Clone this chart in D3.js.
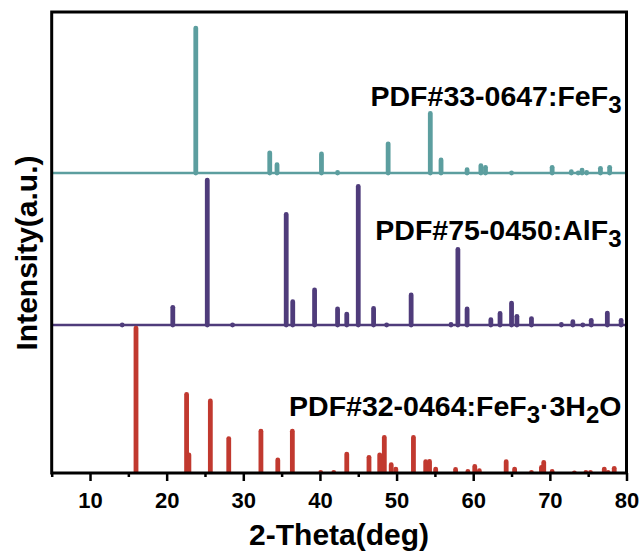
<!DOCTYPE html>
<html>
<head>
<meta charset="utf-8">
<script src="https://cdn.jsdelivr.net/npm/d3@7"></script>
<style>
  html, body { margin: 0; padding: 0; background: #fff; }
  svg { display: block; }
  text { font-family: "Liberation Sans", Arial, sans-serif; font-weight: bold; fill: #000; }
</style>
</head>
<body>
<svg id="chart" width="641" height="554"></svg>
<script>
// ---- Data (2θ positions in degrees, relative intensities 0-100) ----
const fef3Pos = [23.8, 33.45, 34.4, 40.2, 42.3, 48.9, 54.4, 55.8, 59.2, 61.0, 61.6, 65.0, 70.3, 72.8, 73.7, 74.2, 74.8, 76.6, 77.8];
const fef3Int = [100, 15.3, 7.3, 14.6, 2, 21.4, 42, 10.5, 3.9, 6.6, 5.5, 1.6, 5.5, 2.5, 1.6, 3.6, 2, 4.8, 5.5];

const alf3Pos = [14.2, 20.8, 25.3, 28.6, 35.6, 36.45, 39.3, 42.3, 43.5, 45.0, 47.0, 48.7, 51.9, 57.1, 58.0, 59.2, 62.3, 63.5, 65.0, 65.7, 67.6, 71.5, 73.0, 74.3, 75.4, 77.5, 79.3];
const alf3Int = [1, 13.6, 100, 1, 76.7, 17.4, 25.4, 12.5, 9, 95.7, 12.9, 1.6, 22, 2, 52.9, 12.5, 5.2, 9.5, 16.5, 7.5, 6, 2, 3.9, 1.5, 4.8, 9.7, 4.8];

const hydPos = [16.0, 22.6, 22.9, 25.7, 28.1, 32.3, 34.5, 36.4, 40.1, 41.8, 43.5, 46.4, 47.8, 48.4, 49.3, 49.9, 52.2, 53.8, 54.3, 55.1, 57.7, 59.3, 60.2, 60.8, 64.3, 65.4, 67.6, 68.9, 69.2, 70.3, 73.2, 74.7, 75.3, 77.1, 77.6, 78.4];
const hydInt = [100, 55, 14, 50.5, 25, 30, 10.5, 30, 2, 2, 14.5, 12.3, 14, 25.8, 7.3, 4.3, 25.8, 9.3, 9.5, 4.3, 4, 2.7, 6.1, 3.2, 9.3, 4.3, 2, 5.4, 8.8, 2.7, 1.6, 2, 2, 4.3, 2, 4.8];

const majorTicks = [10, 20, 30, 40, 50, 60, 70, 80];
const minorTicks = [5, 15, 25, 35, 45, 55, 65, 75];

const seriesColors = ["#5c9e9f", "#4f3c7b", "#c1392f"];

// ---- Layout ----
const svg = d3.select("#chart");
const pLeft = 51.7, pRight = 626.5, pTop = 12, pBottom = 473;

const x = d3.scaleLinear().domain([5, 80]).range([pLeft, pRight]);
const y = d3.scaleLinear().domain([0, 313]).range([pBottom, pTop]);

const offsets = [203.7, 100.5, 0];
const panels = [
  { pos: fef3Pos, val: fef3Int, color: seriesColors[0], off: offsets[0], base: true },
  { pos: alf3Pos, val: alf3Int, color: seriesColors[1], off: offsets[1], base: true },
  { pos: hydPos, val: hydInt, color: seriesColors[2], off: offsets[2], base: false }
];

svg.append("defs").append("clipPath").attr("id", "plotclip")
  .append("rect").attr("x", pLeft).attr("y", pTop)
  .attr("width", pRight - pLeft).attr("height", pBottom - pTop);

const g = svg.append("g").attr("clip-path", "url(#plotclip)");
const barW = 4.8;

panels.forEach(p => {
  if (p.base) {
    g.append("line")
      .attr("x1", pLeft).attr("x2", pRight)
      .attr("y1", y(p.off)).attr("y2", y(p.off))
      .attr("stroke", p.color).attr("stroke-width", 2.5);
  }
  g.selectAll(null)
    .data(p.pos.map((d, i) => ({ t: d, v: p.val[i] })))
    .enter().append("line")
    .attr("x1", d => x(d.t)).attr("x2", d => x(d.t))
    .attr("y1", y(p.off))
    .attr("y2", d => Math.min(y(p.off + d.v) + barW / 2, y(p.off)))
    .attr("stroke", p.color)
    .attr("stroke-width", barW)
    .attr("stroke-linecap", "round");
});

// Frame
svg.append("rect")
  .attr("x", pLeft).attr("y", pTop)
  .attr("width", pRight - pLeft).attr("height", pBottom - pTop)
  .attr("fill", "none").attr("stroke", "#000").attr("stroke-width", 3);

// X axis
const axMajor = svg.append("g").attr("transform", `translate(0,${pBottom})`)
  .call(d3.axisBottom(x).tickValues(majorTicks).tickSize(8).tickPadding(11).tickFormat(d3.format("d")));
const axMinor = svg.append("g").attr("transform", `translate(0,${pBottom})`)
  .call(d3.axisBottom(x).tickValues(minorTicks).tickSize(4).tickFormat(""));
[axMajor, axMinor].forEach(a => {
  a.select(".domain").remove();
  a.selectAll(".tick line").attr("stroke", "#000").attr("stroke-width", 2.5);
});
axMajor.selectAll(".tick text")
  .style("font-family", "'Liberation Sans', Arial, sans-serif")
  .style("font-weight", "bold")
  .style("font-size", "22px")
  .attr("fill", "#000");

// Axis titles
svg.append("text")
  .attr("x", (pLeft + pRight) / 2).attr("y", 545)
  .attr("text-anchor", "middle")
  .style("font-size", "30px")
  .text("2-Theta(deg)");

svg.append("text")
  .attr("transform", "translate(37,253) rotate(-90)")
  .attr("text-anchor", "middle")
  .style("font-size", "30px")
  .text("Intensity(a.u.)");

// Panel labels (with subscripts)
function label(yb, parts) {
  const t = svg.append("text")
    .attr("x", 621.5).attr("y", yb)
    .attr("text-anchor", "end")
    .style("font-size", "28.5px");
  let shift = 0;
  parts.forEach(([s, sub]) => {
    const target = sub ? 7 : 0;
    const ts = t.append("tspan").text(s).attr("dy", target - shift);
    if (sub) ts.style("font-size", "24px");
    shift = target;
  });
}
label(106, [["PDF#33-0647:FeF", false], ["3", true]]);
label(240, [["PDF#75-0450:AlF", false], ["3", true]]);
label(416, [["PDF#32-0464:FeF", false], ["3", true], ["·3H", false], ["2", true], ["O", false]]);
</script>
</body>
</html>
